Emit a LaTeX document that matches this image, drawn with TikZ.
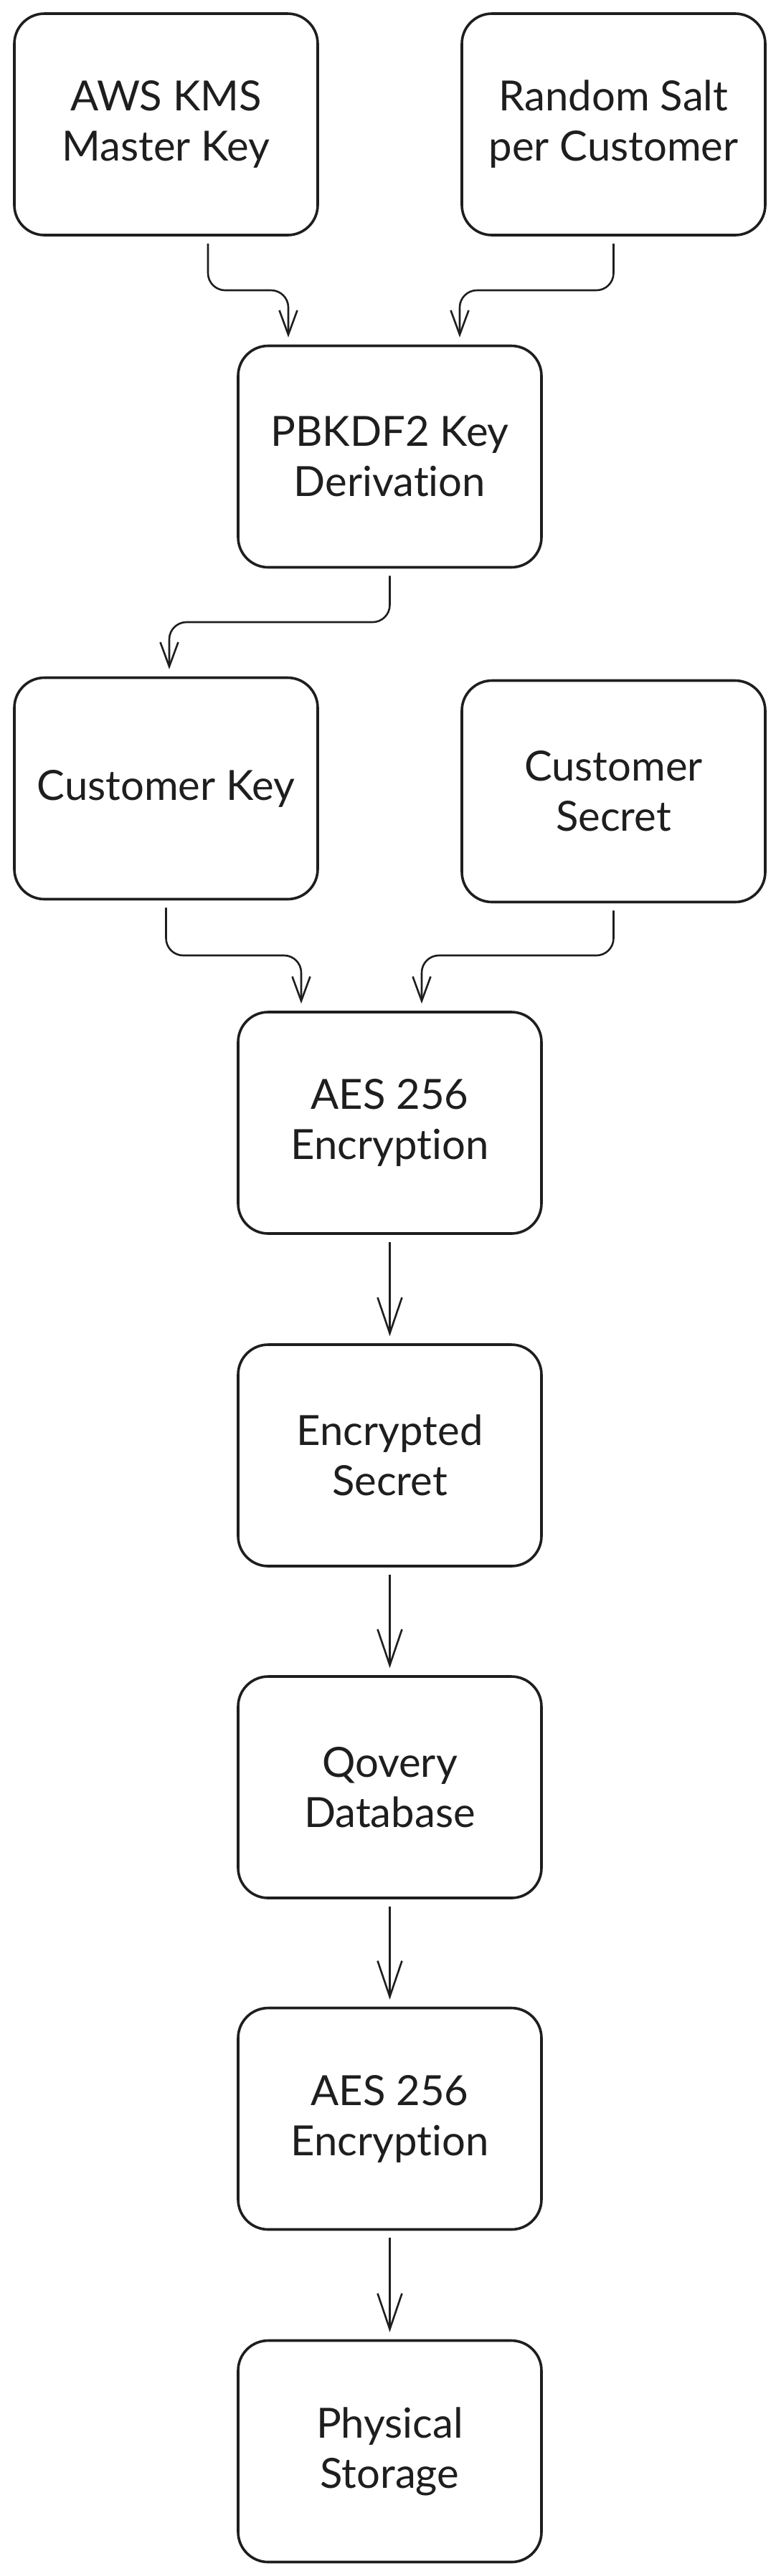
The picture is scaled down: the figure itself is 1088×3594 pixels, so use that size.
\documentclass[tikz,border=0pt]{standalone}
\usepackage{fontspec}
\setmainfont{Lato}[Ligatures={NoCommon}]
\usetikzlibrary{arrows.meta,calc}
\definecolor{ink}{HTML}{1E1E1E}
\begin{document}
\begin{tikzpicture}[x=0.5pt,y=-0.5pt,
  box/.style={draw=ink,line width=1.8pt,rounded corners=21pt,minimum width=211.5pt,minimum height=154.5pt,align=center,font=\fontsize{29}{35}\selectfont,text=ink,inner sep=0pt},
  sarr/.style={draw=ink,line width=1.3pt,-{Straight Barb[length=25pt,width=17pt]},shorten <=5pt,shorten >=5pt},
  barr/.style={draw=ink,line width=1.3pt,rounded corners=12pt,-{Straight Barb[length=17pt,width=12.5pt]},shorten <=5pt,shorten >=5pt}]
\fill[white] (0,0) rectangle (1088,3594);
\useasboundingbox (0,0) rectangle (1088,3594);

\node[box] (aws)  at (231.5,173.5) {AWS KMS\\Master Key};
\node[box] (salt) at (855.5,173.5) {Random Salt\\per Customer};
\node[box] (pb)   at (543.5,637)   {PBKDF2 Key\\Derivation};
\node[box] (ck)   at (231.5,1100)  {Customer Key};
\node[box] (cs)   at (855.5,1104)  {Customer\\Secret};
\node[box] (aes1) at (543.5,1566.5){AES 256\\Encryption};
\node[box] (es)   at (543.5,2030.5){Encrypted\\Secret};
\node[box] (db)   at (543.5,2493.5){Qovery\\Database};
\node[box] (aes2) at (543.5,2956)  {AES 256\\Encryption};
\node[box] (ps)   at (543.5,3420)  {Physical\\Storage};

\coordinate (m1) at (0,405);
\coordinate (m2) at (0,868);
\coordinate (m3) at (0,1333);

\draw[barr] ([xshift=29.25pt]aws.south) -- ([xshift=29.25pt]aws.south |- m1) -| ([xshift=-70.75pt]pb.north);
\draw[barr] (salt.south) -- (salt.south |- m1) -| ([xshift=48.75pt]pb.north);
\draw[barr] (pb.south) -- (pb.south |- m2) -| ([xshift=2.25pt]ck.north);
\draw[barr] (ck.south) -- (ck.south |- m3) -| ([xshift=-61.75pt]aes1.north);
\draw[barr] (cs.south) -- (cs.south |- m3) -| ([xshift=22.25pt]aes1.north);

\draw[sarr] (aes1) -- (es);
\draw[sarr] (es) -- (db);
\draw[sarr] (db) -- (aes2);
\draw[sarr] (aes2) -- (ps);
\end{tikzpicture}
\end{document}
